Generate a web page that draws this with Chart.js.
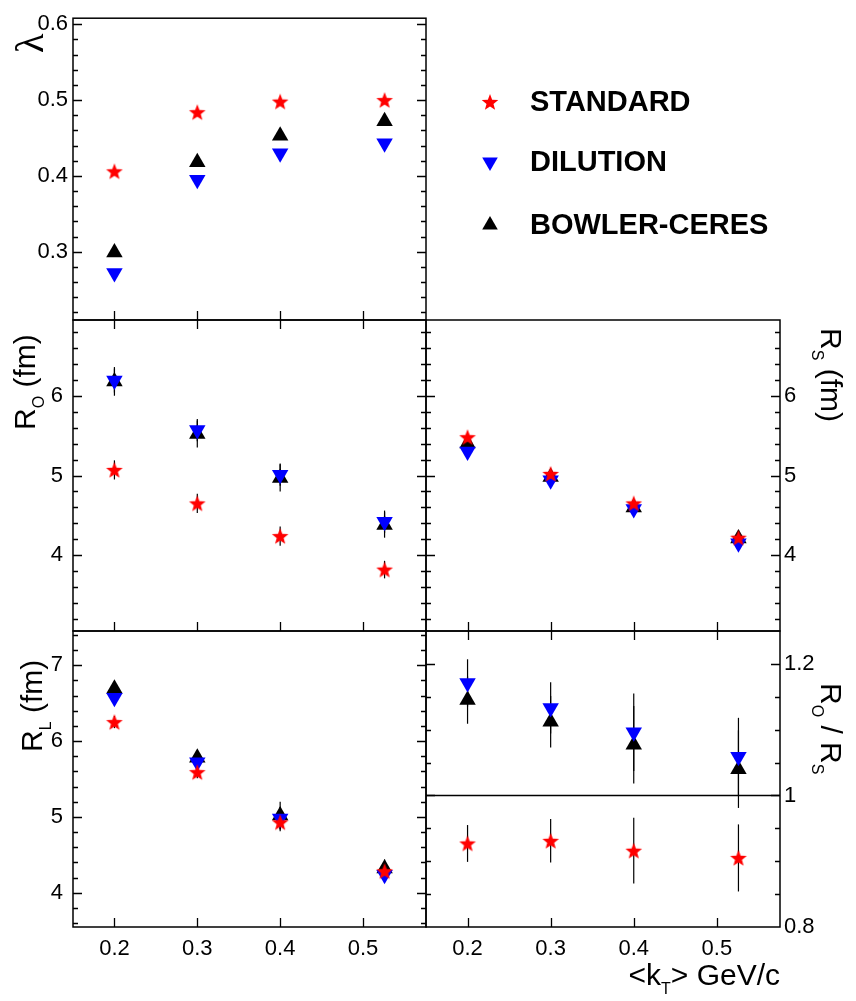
<!DOCTYPE html>
<html>
<head>
<meta charset="utf-8">
<script src="https://cdn.jsdelivr.net/npm/chart.js@4"></script>
<style>
  html, body { margin: 0; padding: 0; background: #fff; }
  #wrap { position: relative; width: 856px; height: 1001px; }
  #wrap canvas { position: absolute; left: 0; top: 0; }
</style>
</head>
<body>
<div id="wrap">
  <canvas id="cLambda" width="856" height="1001"></canvas>
  <canvas id="cRo" width="856" height="1001"></canvas>
  <canvas id="cRl" width="856" height="1001"></canvas>
  <canvas id="cRs" width="856" height="1001"></canvas>
  <canvas id="cRatio" width="856" height="1001"></canvas>
</div>
<script>
// <kT> bins (GeV/c)
const kt = [0.2, 0.3, 0.4, 0.526];
const seriesNames = ['STANDARD', 'DILUTION', 'BOWLER-CERES'];

// lambda
const lambdaStd = [0.406, 0.484, 0.498, 0.500];
const lambdaDil = [0.272, 0.395, 0.430, 0.443];
const lambdaBc  = [0.299, 0.418, 0.453, 0.472];

// R_O (fm)
const roStd = [5.07, 4.65, 4.24, 3.82];
const roStdErr = [0.12, 0.12, 0.12, 0.11];
const roDil = [6.19, 5.57, 5.01, 4.42];
const roDilErr = [0.15, 0.14, 0.14, 0.14];
const roBc  = [6.18, 5.52, 4.97, 4.38];
const roBcErr = [0.18, 0.17, 0.17, 0.16];

// R_S (fm)
const rsStd = [5.48, 5.02, 4.65, 4.22];
const rsDil = [5.30, 4.94, 4.58, 4.15];
const rsBc  = [5.40, 4.98, 4.60, 4.21];
const rsErr = [0.05, 0.05, 0.05, 0.05];

// R_L (fm)
const rlStd = [6.25, 5.59, 4.93, 4.285];
const rlStdErr = [0.08, 0.08, 0.12, 0.08];
const rlDil = [6.57, 5.72, 4.98, 4.24];
const rlDilErr = [0.10, 0.10, 0.15, 0.10];
const rlBc  = [6.69, 5.78, 5.02, 4.32];
const rlBcErr = [0.10, 0.10, 0.18, 0.12];

// R_O / R_S
const ratioStd = [0.927, 0.931, 0.916, 0.905];
const ratioStdErr = [0.028, 0.033, 0.050, 0.051];
const ratioDil = [1.171, 1.133, 1.096, 1.059];
const ratioBc  = [1.145, 1.112, 1.077, 1.040];
const ratioErr = [0.036, 0.039, 0.059, 0.059];

const W = 856, H = 1001;
const SANS = '"Liberation Sans", Arial, Helvetica, sans-serif';
const tickFont = { family: SANS, size: 22 };

function starImage(color, size) {
  var c = document.createElement('canvas');
  c.width = c.height = size;
  var g = c.getContext('2d');
  var cx = size / 2, cy = size / 2 + 0.8, ro = size / 2 - 0.3, ri = ro * 0.42;
  g.beginPath();
  for (var i = 0; i < 10; i++) {
    var r = i % 2 ? ri : ro;
    var a = -Math.PI / 2 + i * Math.PI / 5;
    g.lineTo(cx + r * Math.cos(a), cy + r * Math.sin(a));
  }
  g.closePath();
  g.fillStyle = color;
  g.fill();
  return c;
}
const redStar = starImage('#ff0000', 18);

const markers = [
  { color: '#ff0000', style: redStar, rotation: 0 },
  { color: '#0000ff', style: 'triangle', rotation: 180 },
  { color: '#000000', style: 'triangle', rotation: 0 }
];

function makeSets(vals, errs) {
  return vals.map(function (v, k) {
    var m = markers[k];
    return {
      label: seriesNames[k],
      data: kt.map(function (x, i) { return { x: x, y: v[i] }; }),
      errors: errs ? errs[k] : null,
      pointStyle: m.style,
      pointRotation: m.rotation,
      pointRadius: 9.5,
      pointHoverRadius: 9.5,
      pointBackgroundColor: m.color,
      pointBorderWidth: 0,
      showLine: false
    };
  });
}

function isMajor(v, step) {
  var q = v / step;
  return Math.abs(q - Math.round(q)) < 1e-6;
}

function richText(ctx, x, y, angle, parts, align) {
  ctx.save();
  ctx.translate(x, y);
  ctx.rotate(angle);
  var total = 0;
  parts.forEach(function (p) { ctx.font = p.font; p.w = ctx.measureText(p.t).width; total += p.w; });
  var cx = align === 'right' ? -total : 0;
  ctx.textAlign = 'left';
  ctx.textBaseline = 'alphabetic';
  ctx.fillStyle = '#000';
  parts.forEach(function (p) { ctx.font = p.font; ctx.fillText(p.t, cx, p.dy || 0); cx += p.w; });
  ctx.restore();
}

// error bars under the markers
const errorBars = {
  id: 'errorBars',
  beforeDatasetsDraw(chart) {
    var ctx = chart.ctx, xs = chart.scales.x, ys = chart.scales.y;
    ctx.save();
    ctx.strokeStyle = '#000';
    ctx.lineWidth = 1.2;
    chart.data.datasets.forEach(function (ds) {
      if (!ds.errors) return;
      ds.data.forEach(function (p, i) {
        var px = xs.getPixelForValue(p.x);
        ctx.beginPath();
        ctx.moveTo(px, ys.getPixelForValue(p.y - ds.errors[i]));
        ctx.lineTo(px, ys.getPixelForValue(p.y + ds.errors[i]));
        ctx.stroke();
      });
    });
    ctx.restore();
  }
};

// frame, inward ticks, titles, legend
const deco = {
  id: 'deco',
  afterDraw(chart, args, opts) {
    var ctx = chart.ctx, a = chart.chartArea, xs = chart.scales.x, ys = chart.scales.y;
    ctx.save();
    ctx.strokeStyle = '#000';
    ctx.lineWidth = 1.5;
    ctx.strokeRect(a.left, a.top, a.right - a.left, a.bottom - a.top);

    ctx.lineWidth = 1.3;
    ctx.beginPath();
    ys.ticks.forEach(function (t) {
      if (t.value <= ys.min || t.value >= ys.max) return;
      var py = Math.round(ys.getPixelForValue(t.value)) + 0.5;
      var len = isMajor(t.value, opts.yMajor) ? 9 : 5;
      ctx.moveTo(a.left, py); ctx.lineTo(a.left + len, py);
      ctx.moveTo(a.right, py); ctx.lineTo(a.right - len, py);
    });
    xs.ticks.forEach(function (t) {
      var px = Math.round(xs.getPixelForValue(t.value)) + 0.5;
      if (opts.xTop) { ctx.moveTo(px, a.top); ctx.lineTo(px, a.top + 9); }
      if (opts.xBottom) { ctx.moveTo(px, a.bottom); ctx.lineTo(px, a.bottom - 9); }
    });
    ctx.stroke();

    if (opts.hline !== undefined) {
      var hy = Math.round(ys.getPixelForValue(opts.hline)) + 0.5;
      ctx.lineWidth = 1.3;
      ctx.beginPath();
      ctx.moveTo(a.left, hy); ctx.lineTo(a.right, hy);
      ctx.stroke();
    }

    (opts.titles || []).forEach(function (tt) {
      richText(ctx, tt.x, tt.y, tt.angle, tt.parts, tt.align);
    });

    if (opts.legend) {
      var L = opts.legend;
      chart.data.datasets.forEach(function (ds, k) {
        ctx.fillStyle = ds.pointBackgroundColor;
        Chart.helpers.drawPoint(ctx, {
          pointStyle: ds.pointStyle, rotation: ds.pointRotation, radius: 9, borderWidth: 0
        }, L.x, L.ys[k]);
        ctx.fillStyle = '#000';
        ctx.font = 'bold 29px ' + SANS;
        ctx.textAlign = 'left';
        ctx.textBaseline = 'middle';
        ctx.fillText(ds.label, L.textX, L.ys[k] + 1);
      });
    }
    ctx.restore();
  }
};
Chart.register(errorBars, deco);

const MAIN = '30px ' + SANS, SUB = '16px ' + SANS;

// box = [left, right, top, bottom] of the plot frame in page pixels
function panel(id, box, yMin, yMax, yMinor, yMajor, yPos, showX, datasets, decoOpts) {
  decoOpts.yMajor = yMajor;
  var yW = 60, xH = showX ? 40 : 0;
  var pad = {
    left: yPos === 'left' ? box[0] - yW : box[0],
    right: yPos === 'right' ? W - box[1] - yW : W - box[1],
    top: box[2],
    bottom: H - box[3] - xH
  };
  return new Chart(document.getElementById(id), {
    type: 'scatter',
    data: { datasets: datasets },
    options: {
      responsive: false,
      animation: false,
      devicePixelRatio: 1,
      events: [],
      layout: { padding: pad },
      plugins: { legend: { display: false }, tooltip: { enabled: false }, deco: decoOpts },
      scales: {
        x: {
          type: 'linear', position: 'bottom', min: 0.15, max: 0.576,
          grid: { display: false, drawTicks: false }, border: { display: false },
          afterFit: function (s) { s.height = xH; },
          ticks: {
            display: showX, stepSize: 0.1, includeBounds: false, autoSkip: false, maxRotation: 0,
            padding: 9, color: '#000', font: tickFont,
            callback: function (v) { return String(+v.toFixed(2)); }
          }
        },
        y: {
          type: 'linear', position: yPos, min: yMin, max: yMax,
          grid: { display: false, drawTicks: false }, border: { display: false },
          afterFit: function (s) { s.width = yW; },
          ticks: {
            display: true, stepSize: yMinor, includeBounds: false, autoSkip: false,
            padding: decoOpts.yPad || 8, color: '#000', font: tickFont,
            callback: function (v) { return isMajor(v, yMajor) ? String(+v.toFixed(2)) : ''; }
          }
        }
      }
    }
  });
}

panel('cLambda', [73, 426, 9, 320], 0.21, 0.608, 0.02, 0.1, 'left', false,
  makeSets([lambdaStd, lambdaDil, lambdaBc]),
  { xBottom: true, yPad: 5,
    titles: [{ x: 43, y: 53, angle: -Math.PI / 2, parts: [{ t: 'λ', font: '40px "Liberation Serif", "DejaVu Serif", serif' }] }],
    legend: { x: 490, textX: 530, ys: [102, 162, 225] } });

panel('cRo', [73, 426, 320, 631], 3.05, 6.95, 0.2, 1, 'left', false,
  makeSets([roStd, roDil, roBc], [roStdErr, roDilErr, roBcErr]),
  { xTop: true, xBottom: true, yPad: 10,
    titles: [{ x: 35, y: 430, angle: -Math.PI / 2, parts: [
      { t: 'R', font: MAIN }, { t: 'O', font: SUB, dy: 9 }, { t: ' (fm)', font: MAIN }] }] });

panel('cRl', [73, 426, 631, 927], 3.55, 7.45, 0.2, 1, 'left', true,
  makeSets([rlStd, rlDil, rlBc], [rlStdErr, rlDilErr, rlBcErr]),
  { xBottom: true, yPad: 10,
    titles: [{ x: 42, y: 752, angle: -Math.PI / 2, parts: [
      { t: 'R', font: MAIN }, { t: 'L', font: SUB, dy: 9 }, { t: ' (fm)', font: MAIN }] }] });

panel('cRs', [426, 780, 320, 631], 3.05, 6.95, 0.2, 1, 'right', false,
  makeSets([rsStd, rsDil, rsBc], [rsErr, rsErr, rsErr]),
  { xBottom: true, yPad: 4,
    titles: [{ x: 821, y: 328, angle: Math.PI / 2, parts: [
      { t: 'R', font: MAIN }, { t: 'S', font: SUB, dy: 9 }, { t: ' (fm)', font: MAIN }] }] });

panel('cRatio', [426, 780, 631, 927], 0.8, 1.25, 0.05, 0.2, 'right', true,
  makeSets([ratioStd, ratioDil, ratioBc], [ratioStdErr, ratioErr, ratioErr]),
  { xTop: true, xBottom: true, yPad: 4, hline: 1.0,
    titles: [
      { x: 821, y: 683, angle: Math.PI / 2, parts: [
        { t: 'R', font: MAIN }, { t: 'O', font: SUB, dy: 9 }, { t: ' / R', font: MAIN }, { t: 'S', font: SUB, dy: 9 }] },
      { x: 780, y: 985, angle: 0, align: 'right', parts: [
        { t: '<k', font: MAIN }, { t: 'T', font: SUB, dy: 9 }, { t: '> GeV/c', font: MAIN }] }
    ] });
</script>
</body>
</html>
